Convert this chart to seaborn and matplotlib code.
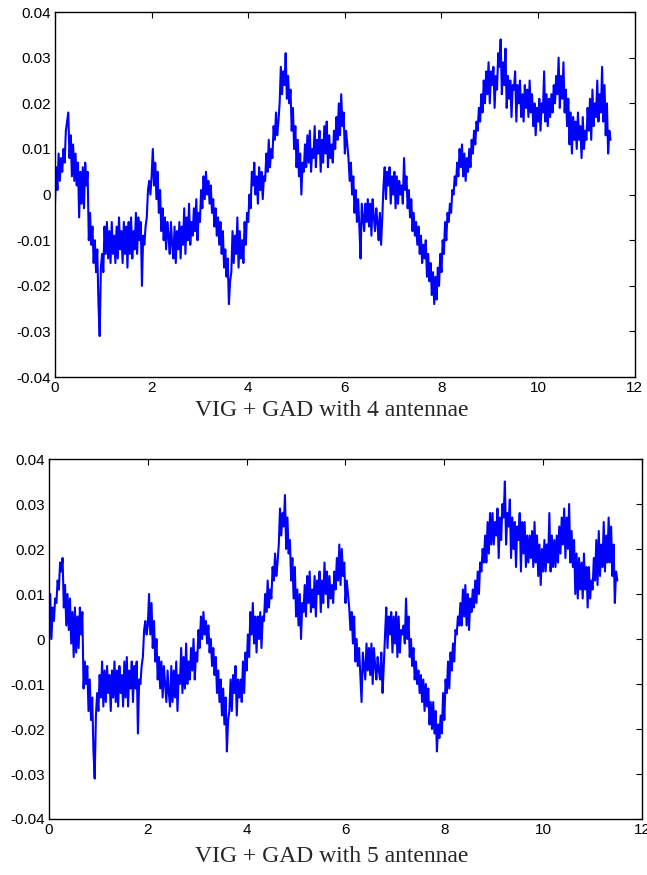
import numpy as np
import pandas as pd
import matplotlib
matplotlib.use("Agg")
import matplotlib.pyplot as plt
import seaborn as sns

step = 0.025
err_4ant = [
    -2, 6, 1, 9, 3, 8, 5, 10, 7, 14, 16, 18, 8, 13, 4, 11, 3, 9, 2, 7,
    -5, 5, -2, 6, -3, 7, 2, 5, -10, -4, -11, -7, -15, -10, -17, -12, -24, -31, -16, -13,
    -17, -7, -13, -6, -14, -8, -15, -6, -13, -9, -15, -7, -14, -5, -12, -8, -15, -6, -13, -7,
    -16, -6, -13, -5, -14, -8, -12, -4, -13, -5, -10, -6, -20, -9, -11, -7, -5, 1, 3, 0,
    4, 10, 2, 7, -1, 5, -4, 1, -8, -3, -10, -5, -12, -6, -9, -13, -6, -11, -14, -7,
    -15, -8, -12, -6, -14, -7, -11, -3, -13, -5, -10, -2, -11, -6, -9, -3, -8, -1, -10, -4,
    -6, 1, -3, 4, -1, 5, 0, 3, -2, 2, -4, -1, -7, -3, -9, -5, -11, -6, -13, -8,
    -16, -12, -18, -14, -24, -19, -17, -8, -15, -9, -13, -5, -16, -8, -14, -10, -15, -6, -11, -4,
    -6, 0, -3, 5, 2, 7, 0, 4, -2, 6, 1, 5, -1, 4, 3, 9, 5, 12, 6, 10,
    8, 15, 12, 18, 13, 16, 20, 28, 22, 27, 24, 31, 21, 26, 20, 23, 14, 19, 10, 15,
    6, 12, 4, 9, 0, 7, 5, 11, 6, 13, 7, 14, 5, 10, 8, 15, 6, 12, 9, 14,
    5, 12, 7, 15, 9, 16, 6, 13, 8, 11, 7, 14, 10, 17, 12, 20, 13, 22, 15, 18,
    9, 14, 11, 8, 3, 7, 0, 4, -4, 1, -6, -1, -7, -14, -2, -5, -8, -2, -6, -1,
    -7, -2, -9, -1, -5, -8, -3, -6, -10, -4, -11, -5, 2, 6, -1, 5, 2, 6, -2, 4,
    0, 5, -3, 4, -2, 3, 0, 2, -2, 8, 1, 4, -3, 1, -5, -1, -8, -4, -9, -6,
    -11, -7, -13, -9, -15, -11, -14, -10, -18, -13, -19, -15, -22, -17, -24, -18, -23, -16, -20, -13,
    -17, -10, -13, -6, -10, -4, -6, -2, -4, 1, 0, 4, 2, 7, 4, 10, 6, 11, 4, 9,
    3, 8, 5, 10, 6, 12, 9, 14, 11, 16, 14, 19, 16, 22, 18, 25, 20, 27, 22, 29,
    20, 27, 24, 28, 19, 26, 23, 31, 28, 34, 22, 29, 24, 32, 19, 26, 21, 25, 17, 24,
    23, 27, 16, 24, 20, 25, 17, 22, 16, 24, 19, 23, 17, 25, 18, 22, 15, 20, 13, 19,
    16, 21, 14, 20, 18, 27, 16, 22, 15, 21, 17, 22, 18, 24, 20, 26, 22, 30, 19, 26,
    21, 29, 18, 23, 15, 21, 11, 18, 9, 17, 12, 16, 10, 18, 12, 15, 8, 17, 10, 14,
    12, 19, 14, 21, 12, 23, 15, 20, 17, 25, 16, 22, 18, 28, 16, 24, 13, 20, 9, 14,
    12,
]
err_5ant = [
    -1, 10, 0, 7, 4, 9, 8, 13, 11, 17, 15, 18, 7, 12, 3, 10, 2, 9, -1, 6,
    -4, 7, -3, 5, -2, 7, 1, 6, -11, -5, -10, -6, -16, -9, -18, -13, -25, -31, -17, -12,
    -16, -8, -13, -5, -15, -7, -14, -6, -12, -8, -16, -7, -13, -5, -14, -7, -15, -6, -12, -8,
    -15, -5, -13, -4, -15, -7, -11, -5, -14, -6, -11, -5, -21, -9, -10, -6, -4, 2, 4, 1,
    3, 10, 1, 8, -2, 4, -5, 0, -9, -4, -11, -5, -13, -6, -10, -14, -7, -12, -15, -6,
    -14, -7, -13, -5, -16, -8, -10, -2, -12, -4, -11, -1, -10, -5, -9, -2, -7, 0, -9, -3,
    -5, 2, -2, 5, 0, 6, 1, 4, -1, 3, -3, 0, -6, -2, -8, -4, -12, -7, -14, -9,
    -17, -11, -19, -13, -25, -18, -16, -9, -16, -8, -12, -6, -17, -9, -13, -9, -14, -5, -12, -3,
    -7, 1, -4, 6, 1, 8, -1, 5, -3, 5, 0, 6, -2, 5, 4, 10, 6, 13, 7, 11,
    9, 16, 13, 19, 14, 17, 21, 29, 23, 28, 25, 32, 20, 27, 19, 22, 13, 18, 9, 16,
    5, 11, 3, 10, 0, 8, 6, 12, 5, 14, 8, 15, 6, 11, 7, 14, 5, 13, 10, 15,
    6, 13, 8, 17, 10, 15, 7, 14, 9, 12, 8, 15, 11, 18, 13, 21, 12, 20, 14, 17,
    8, 13, 10, 7, 2, 6, -1, 5, -5, 0, -6, -2, -8, -14, -3, -6, -9, -1, -7, -2,
    -8, -1, -10, -2, -6, -9, -4, -7, -9, -3, -12, -6, 1, 7, -2, 5, 1, 6, -3, 5,
    -1, 6, -4, 5, -3, 2, 1, 3, -1, 9, 0, 5, -4, 0, -6, -2, -9, -5, -10, -7,
    -12, -8, -14, -9, -16, -10, -15, -11, -19, -14, -20, -14, -21, -16, -25, -19, -22, -17, -21, -12,
    -18, -9, -12, -5, -11, -3, -7, -1, -5, 2, 1, 5, 3, 8, 3, 11, 5, 12, 3, 10,
    2, 9, 6, 11, 7, 13, 8, 15, 10, 17, 15, 20, 17, 23, 17, 26, 19, 28, 21, 28,
    21, 26, 23, 29, 18, 27, 22, 30, 27, 35, 21, 28, 25, 31, 18, 27, 20, 26, 16, 25,
    22, 28, 15, 26, 19, 26, 16, 23, 17, 23, 18, 24, 16, 26, 17, 23, 14, 21, 12, 20,
    15, 22, 15, 21, 17, 28, 15, 23, 16, 22, 16, 23, 17, 25, 19, 27, 21, 29, 18, 27,
    20, 30, 17, 24, 16, 22, 10, 19, 9, 18, 11, 17, 9, 19, 11, 16, 7, 16, 9, 13,
    11, 18, 13, 22, 12, 24, 14, 21, 16, 26, 15, 23, 17, 27, 17, 25, 14, 21, 8, 15,
    13,
]
captions = ["VIG + GAD with 4 antennae", "VIG + GAD with 5 antennae"]
x_ticks = [0, 2, 4, 6, 8, 10, 12]
y_ticks = [-0.04, -0.03, -0.02, -0.01, 0, 0.01, 0.02, 0.03, 0.04]
y_labels = ["-0.04", "-0.03", "-0.02", "-0.01", "0", "0.01", "0.02", "0.03", "0.04"]

sns.set_style("white")
plt.rcParams["font.family"] = ["Liberation Sans", "DejaVu Sans"]

fig = plt.figure(figsize=(6.47, 8.75), dpi=100)
boxes = [[0.085, 0.569, 0.896, 0.4172], [0.0757, 0.064, 0.9166, 0.4114]]
cap_y = [0.519, 0.009]

for box, vals, cap, cy in zip(boxes, [err_4ant, err_5ant], captions, cap_y):
    ax = fig.add_axes(box)
    df = pd.DataFrame({"t": np.arange(len(vals)) * step, "err": np.array(vals) / 1000.0})
    sns.lineplot(data=df, x="t", y="err", ax=ax, color="#0000FF",
                 linewidth=1.5, estimator=None, sort=False)
    ax.set_xlim(0, 12)
    ax.set_ylim(-0.04, 0.04)
    ax.set_xticks(x_ticks)
    ax.set_xticklabels([str(v) for v in x_ticks])
    ax.set_yticks(y_ticks)
    ax.set_yticklabels(y_labels)
    ax.set_xlabel("")
    ax.set_ylabel("")
    ax.tick_params(direction="in", length=4, width=0.8, labelsize=11,
                   top=True, right=True, colors="black", pad=3)
    for s in ax.spines.values():
        s.set_color("black")
        s.set_linewidth(1.0)
    fig.text(0.512, cy, cap, ha="center", va="bottom",
             family=["Liberation Serif", "DejaVu Serif"], fontsize=17)

fig.savefig("out.png", dpi=100, facecolor="white")
